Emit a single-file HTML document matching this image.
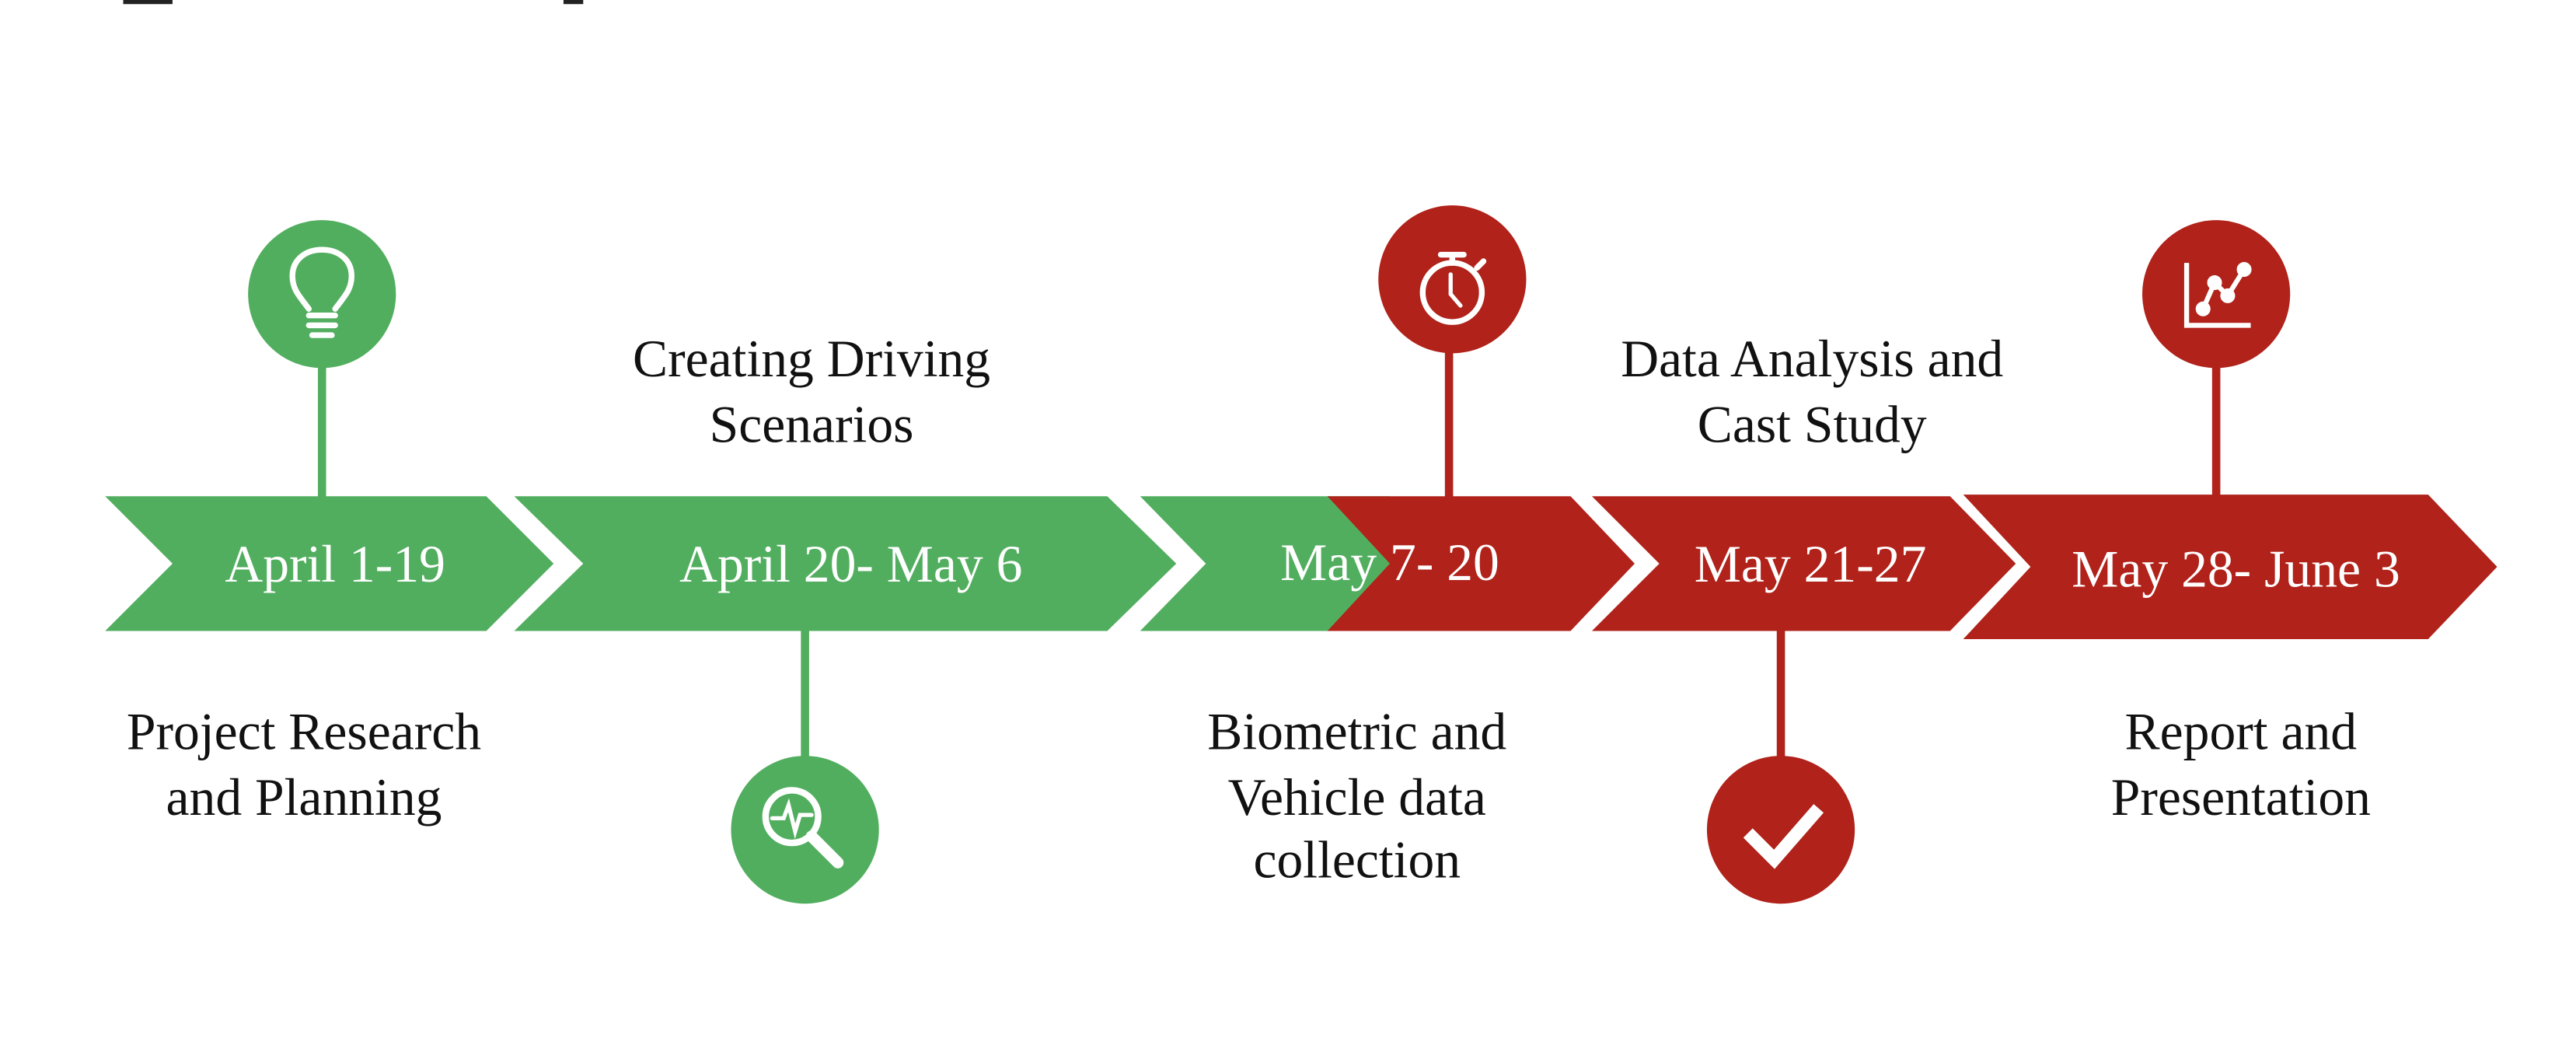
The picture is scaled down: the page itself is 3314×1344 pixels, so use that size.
<!DOCTYPE html>
<html><head><meta charset="utf-8"><style>
html,body{margin:0;padding:0;background:#fff;}
svg{display:block;}
text{font-family:"Liberation Serif",serif;}
</style></head><body>
<svg width="3314" height="1344" viewBox="0 0 1568 636" preserveAspectRatio="none" xmlns="http://www.w3.org/2000/svg">
<rect width="1568" height="636" fill="#fff"/>
<rect x="75" y="0" width="30" height="2.5" fill="#222"/>
<rect x="343" y="0" width="12" height="2.5" fill="#222"/>
<g fill="#52AE5F">
<polygon points="64,302 296,302 337,343 296,384 64,384 105,343"/>
<polygon points="313,302 674,302 716,343 674,384 313,384 355,343"/>
<polygon points="694,302 846,302 846,384 694,384 734,343"/>
</g>
<g fill="#B0221A">
<polygon points="808,302 956,302 995,343 956,384 808,384 846,343"/>
<polygon points="969,302 1187,302 1227,343 1187,384 969,384 1010,343"/>
<polygon points="1195,301 1478,301 1520,345 1478,389 1195,389 1236,345"/>
</g>
<!-- connectors -->
<rect x="193.5" y="220" width="5" height="83" fill="#52AE5F"/>
<rect x="487.5" y="383" width="5" height="80" fill="#52AE5F"/>
<rect x="879.5" y="210" width="5" height="93" fill="#B0221A"/>
<rect x="1081.5" y="383" width="5" height="80" fill="#B0221A"/>
<rect x="1346.5" y="220" width="5" height="82" fill="#B0221A"/>
<!-- circles -->
<circle cx="196" cy="179" r="45" fill="#52AE5F"/>
<circle cx="490" cy="505" r="45" fill="#52AE5F"/>
<circle cx="884" cy="170" r="45" fill="#B0221A"/>
<circle cx="1084" cy="505" r="45" fill="#B0221A"/>
<circle cx="1349" cy="179" r="45" fill="#B0221A"/>
<!-- bulb -->
<g stroke="#fff" fill="none" stroke-width="3.5" stroke-linecap="round">
<path d="M188,188 C182,180 178,176 178,168 C178,158 186,152 196,152 C206,152 214,158 214,168 C214,176 210,180 204,188"/>
<line x1="188" y1="192" x2="204" y2="192"/><line x1="188" y1="198" x2="204" y2="198"/><line x1="190" y1="204" x2="202" y2="204"/>
</g>
<!-- magnifier -->
<g stroke="#fff" fill="none" stroke-width="4" stroke-linecap="round">
<circle cx="482" cy="497" r="16"/>
<line x1="494" y1="509" x2="510" y2="525" stroke-width="7"/>
<polyline points="470,498 477,498 480,490 484,506 487,496 494,496" stroke-width="2.5"/>
</g>
<!-- stopwatch -->
<g stroke="#fff" fill="none" stroke-width="3.5" stroke-linecap="round">
<circle cx="884" cy="178" r="18"/>
<line x1="884" y1="156" x2="884" y2="160"/><line x1="877" y1="155" x2="891" y2="155"/>
<line x1="899" y1="163" x2="903" y2="159"/>
<polyline points="883,167 883,179 889,186" stroke-width="2.5"/>
</g>
<!-- check -->
<polyline points="1064,507 1080,523 1107,492" stroke="#fff" stroke-width="8" fill="none"/>
<!-- chart -->
<g stroke="#fff" fill="none" stroke-width="3">
<polyline points="1331,160 1331,198 1370,198"/>
<polyline points="1341,188 1348,172 1356,180 1366,164"/>
<circle cx="1341" cy="188" r="3" fill="#fff"/><circle cx="1348" cy="172" r="3" fill="#fff"/><circle cx="1356" cy="180" r="3" fill="#fff"/><circle cx="1366" cy="164" r="3" fill="#fff"/>
</g>
<!-- chevron labels -->
<g fill="#fff" font-size="32" text-anchor="middle">
<text x="204" y="354">April 1-19</text>
<text x="518" y="354">April 20- May 6</text>
<text x="846" y="353">May 7- 20</text>
<text x="1102" y="354">May 21-27</text>
<text x="1361" y="357">May 28- June 3</text>
</g>
<g fill="#111" font-size="32" text-anchor="middle">
<text x="494" y="229">Creating Driving</text>
<text x="494" y="269">Scenarios</text>
<text x="185" y="456">Project Research</text>
<text x="185" y="496">and Planning</text>
<text x="826" y="456">Biometric and</text>
<text x="826" y="496">Vehicle data</text>
<text x="826" y="534">collection</text>
<text x="1103" y="229">Data Analysis and</text>
<text x="1103" y="269">Cast Study</text>
<text x="1364" y="456">Report and</text>
<text x="1364" y="496">Presentation</text>
</g>
</svg>
</body></html>
